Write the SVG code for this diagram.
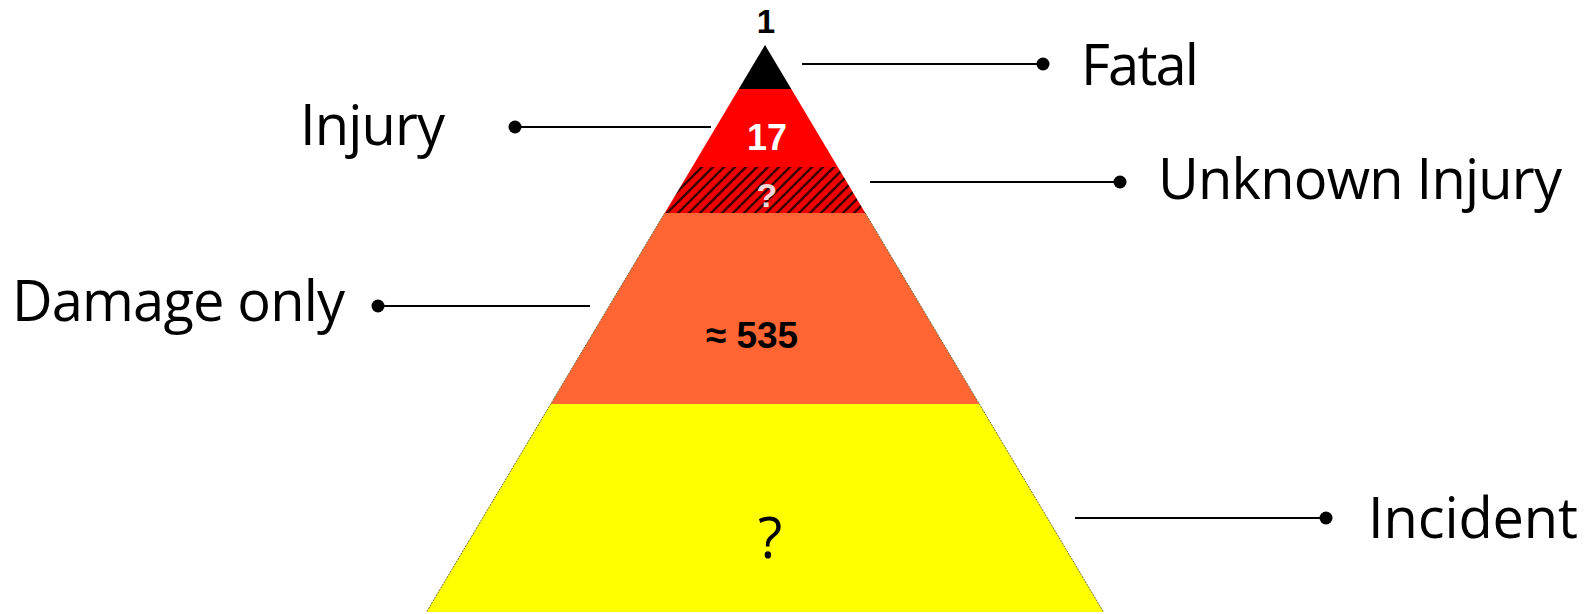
<svg xmlns="http://www.w3.org/2000/svg" width="1591" height="614" viewBox="0 0 1591 614">
  <defs>
    <pattern id="hatch" patternUnits="userSpaceOnUse" width="11" height="11">
      <rect width="11" height="11" fill="#f00000"/>
      <path d="M-2,2 L2,-2 M0,11 L11,0 M9,13 L13,9" stroke="#3a0000" stroke-width="2.4"/>
    </pattern>
  </defs>
  <style>
    .lbl { font-family: "Open Sans", "Noto Sans", sans-serif; font-size: 56px; fill: #000; }
    .num { font-family: "Liberation Sans", Arial, sans-serif; font-weight: bold; text-anchor: middle; }
    .conn line { stroke: #000; stroke-width: 2; }
    .conn circle { fill: #000; }
  </style>
  <rect width="1591" height="614" fill="#fff"/>

  <g id="fatal">
    <path d="M765,45 L791.3,89 L738.7,89 Z" fill="#000"/>
    <text class="num" x="766" y="33" font-size="33" fill="#000">1</text>
  </g>
  <g id="injury">
    <path d="M738.7,89 L791.3,89 L837.8,167 L692.2,167 Z" fill="#ff0000"/>
    <text class="num" x="767" y="150" font-size="36" fill="#fff">17</text>
  </g>
  <g id="unknown-injury">
    <path d="M692.2,167 L837.8,167 L865.3,213 L664.7,213 Z" fill="url(#hatch)"/>
    <text class="num" x="767" y="207" font-size="34" fill="#fff" fill-opacity="0.85">?</text>
  </g>
  <g id="damage-only">
    <path d="M664.7,213 L865.3,213 L979.3,404 L550.7,404 Z" fill="#ff6633"/>
    <text class="num" x="752" y="348" font-size="37" fill="#000">≈ 535</text>
  </g>
  <g id="incident">
    <path d="M550.7,404 L979.3,404 L1103.5,612 L426.5,612 Z" fill="#ffff00"/>
    <text class="lbl" x="770" y="558" text-anchor="middle">?</text>
  </g>
  <path id="outline" d="M664.7,213 L426.5,612 M865.3,213 L1103.5,612" stroke="#6e6e3c" stroke-width="1" stroke-dasharray="2 1" fill="none"/>

  <g id="connectors" class="conn">
    <line x1="802" y1="64" x2="1043" y2="64"/><circle cx="1043" cy="64" r="6.5"/>
    <line x1="515" y1="127" x2="711" y2="127"/><circle cx="515" cy="127" r="6.5"/>
    <line x1="870" y1="182" x2="1120" y2="182"/><circle cx="1120" cy="182" r="6.5"/>
    <line x1="378" y1="306" x2="590" y2="306"/><circle cx="378" cy="306" r="6.5"/>
    <line x1="1075" y1="518" x2="1326" y2="518"/><circle cx="1326" cy="518" r="6.5"/>
  </g>

  <g id="labels">
    <text class="lbl" x="1081" y="85" textLength="118">Fatal</text>
    <text class="lbl" x="300" y="145" textLength="145">Injury</text>
    <text class="lbl" x="1158" y="199" textLength="404">Unknown Injury</text>
    <text class="lbl" x="12" y="321" textLength="333">Damage only</text>
    <text class="lbl" x="1368" y="538" textLength="210">Incident</text>
  </g>
</svg>
